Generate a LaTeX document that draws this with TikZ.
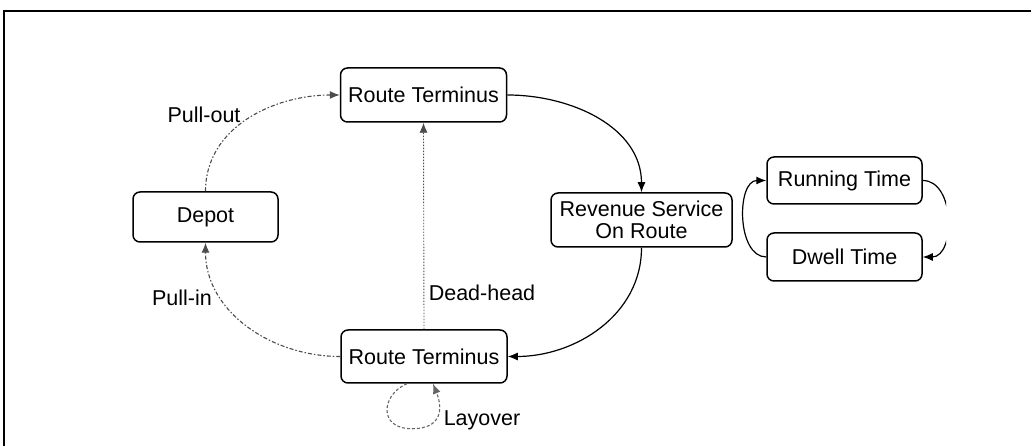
\documentclass[tikz,border=0pt]{standalone}
\usepackage{fontspec}
\setmainfont{Liberation Sans}
\usetikzlibrary{arrows.meta,calc}
\begin{document}
\begin{tikzpicture}[x=1pt,y=1pt,
  box/.style={draw, rounded corners=7pt, line width=1.5pt, align=center,
    inner sep=0pt, font=\fontsize{21.5}{22}\selectfont},
  lbl/.style={font=\fontsize{21.5}{22}\selectfont, inner sep=0pt},
  tip/.style={-{Latex[length=10pt,width=8pt]}},
  solidflow/.style={tip, line width=1.2pt},
  dashflow/.style={tip, line width=1.1pt, black!70, dash pattern=on 4pt off 2pt on 1.5pt off 2pt},
  dotflow/.style={tip, line width=0.9pt, black!70, dash pattern=on 1.5pt off 1.5pt},
  loopflow/.style={tip, line width=1.1pt, black!60, dash pattern=on 3pt off 2pt}
]
\useasboundingbox (0,0) rectangle (1031,446);

% frame
\draw[line width=2.5pt] (4,0) -- (4,435) -- (1031,435);

\begin{scope}
\clip (0,0) rectangle (946,446);

% states
\node[box, minimum width=166pt, minimum height=54pt] (trt) at (423.5,351) {Route Terminus};
\node[box, minimum width=145pt, minimum height=50pt] (depot) at (205.5,229) {Depot};
\node[box, minimum width=181pt, minimum height=54pt] (rev) at (641.5,226) {Revenue Service\\On Route};
\node[box, minimum width=155pt, minimum height=47pt] (run) at (844.5,265.5) {Running Time};
\node[box, minimum width=155pt, minimum height=48pt] (dwell) at (844.5,189) {Dwell Time};
\node[box, minimum width=166pt, minimum height=53pt] (brt) at (424,89.5) {Route Terminus};

% labels
\node[lbl] (lout) at (204,331) {Pull-out};
\node[lbl] (lin) at (182,148) {Pull-in};
\node[lbl] (ldh) at (482,153) {Dead-head};
\node[lbl] (llay) at (482,26) {Layover};

% transitions
\draw[dashflow] (depot.north) to[out=90, in=180] (trt.west);
\draw[solidflow] (trt.east) to[out=0, in=90] (rev.north);
\draw[solidflow] (rev.south) to[out=-90, in=0] (brt.east);
\draw[dashflow] (brt.west) to[out=180, in=-90] (depot.south);
\draw[dotflow] (brt.north) -- (trt.south);
\draw[loopflow] ($(brt.south)+(-17,0)$)
  .. controls +(-25,-10) and +(-35,0) .. ($(brt.south)+(-12,-45)$)
  .. controls +(30,0) and +(10,-25) .. ($(brt.south)+(9,0)$);

% dwell / running cycle
\draw[solidflow] (dwell.west) to[out=180, in=180] (run.west);
\draw[solidflow] (run.east) to[out=0, in=0, looseness=1.1] (dwell.east);
\end{scope}
\end{tikzpicture}
\end{document}
